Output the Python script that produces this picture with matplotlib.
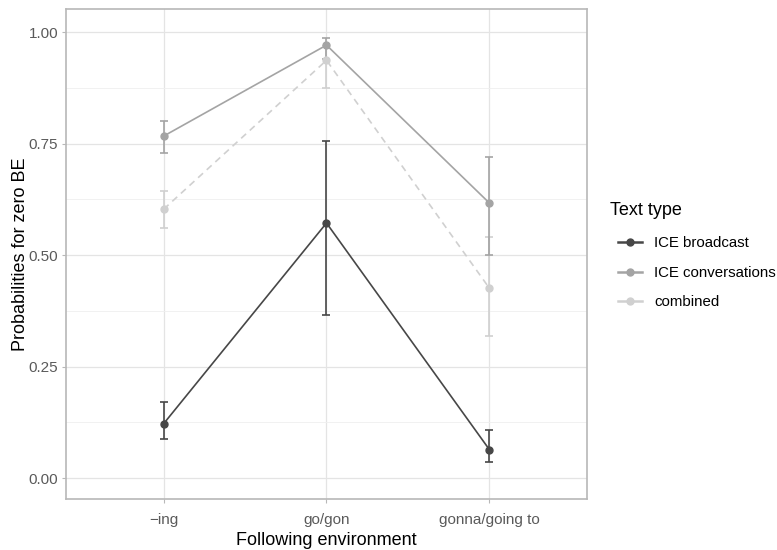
import numpy as np
import matplotlib
matplotlib.use("Agg")
import matplotlib.pyplot as plt
from matplotlib.lines import Line2D

plt.rcParams['font.family'] = ['Liberation Sans', 'DejaVu Sans']

# categories on the x axis
envs = ["\u2212ing", "go/gon", "gonna/going to"]

# estimated probabilities and confidence limits per text type
broadcast = [0.122, 0.572, 0.064]
broadcast_lo = [0.087, 0.366, 0.037]
broadcast_hi = [0.170, 0.757, 0.107]

conversations = [0.767, 0.971, 0.617]
conversations_lo = [0.730, 0.941, 0.500]
conversations_hi = [0.801, 0.986, 0.721]

combined = [0.603, 0.937, 0.426]
combined_lo = [0.561, 0.874, 0.319]
combined_hi = [0.644, 0.970, 0.540]

yticks = [0.00, 0.25, 0.50, 0.75, 1.00]

fig = plt.figure(figsize=(7.77, 5.5), dpi=100)
ax = fig.add_axes([0.0849, 0.0927, 0.6706, 0.8909])

x = np.arange(1, len(envs) + 1)

series = [
    (combined, combined_lo, combined_hi, "#d0d0d0", (0, (4, 3))),
    (conversations, conversations_lo, conversations_hi, "#a4a4a4", "-"),
    (broadcast, broadcast_lo, broadcast_hi, "#474747", "-"),
]
for vals, lo, hi, col, ls in series:
    vals = np.array(vals)
    yerr = [vals - np.array(lo), np.array(hi) - vals]
    ax.plot(x, vals, color=col, lw=1.2, ls=ls, zorder=3)
    ax.errorbar(x, vals, yerr=yerr, fmt="o", color=col, ms=5,
                elinewidth=1.2, capsize=3.2, capthick=1.2, zorder=4)

ax.set_xlim(0.4, 3.6)
ax.set_ylim(-0.047, 1.052)
ax.set_xticks(x)
ax.set_xticklabels(envs)
ax.set_yticks(yticks)
ax.set_yticklabels(["%.2f" % v for v in yticks])
ax.set_yticks([0.125, 0.375, 0.625, 0.875], minor=True)

ax.grid(True, which="major", color="#e4e4e4", lw=0.9, zorder=0)
ax.grid(True, which="minor", axis="y", color="#efefef", lw=0.6, zorder=0)
ax.set_axisbelow(True)
for s in ax.spines.values():
    s.set_color("#b8b8b8")
    s.set_linewidth(1.2)
ax.tick_params(which="major", colors="#b8b8b8", labelcolor="#5a5a5a",
               labelsize=11, length=3, width=0.8)
ax.tick_params(axis="y", pad=2.5)
ax.tick_params(axis="x", pad=7)
ax.tick_params(which="minor", length=0)

ax.set_xlabel("Following environment", fontsize=13, color="black", labelpad=4)
ax.set_ylabel("Probabilities for zero BE", fontsize=13, color="black", labelpad=-0.5)

# legend: title as separate text so the keys sit indented like ggplot
fig.text(610 / 777, 1 - 211 / 550, "Text type", fontsize=13,
         ha="left", va="center")
handles = [
    Line2D([], [], color="#474747", lw=1.8, marker="o", ms=5),
    Line2D([], [], color="#a4a4a4", lw=1.8, marker="o", ms=5),
    Line2D([], [], color="#d0d0d0", lw=1.8, marker="o", ms=5),
]
leg = fig.legend(handles, ["ICE broadcast", "ICE conversations", "combined"],
                 loc="upper left", bbox_to_anchor=(0.7786, 0.5946),
                 frameon=False, fontsize=10.8, handlelength=1.6,
                 labelspacing=1.03, handletextpad=0.8)

fig.savefig("out.png", dpi=100)
